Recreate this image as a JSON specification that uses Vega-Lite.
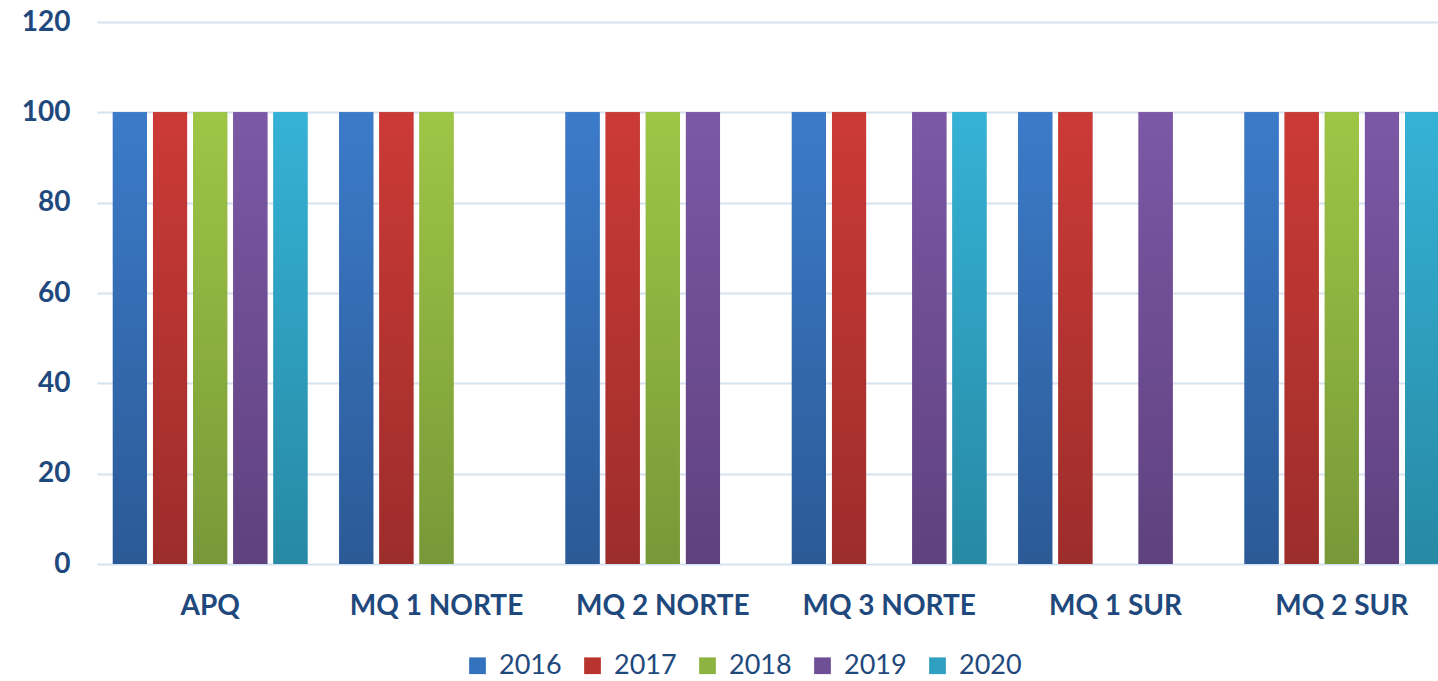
{
  "$schema": "https://vega.github.io/schema/vega-lite/v6.json",
  "width": 1341,
  "height": 542,
  "autosize": "none",
  "padding": {"left": 97, "top": 22, "right": 0, "bottom": 117},
  "background": "white",
  "config": {
    "view": {"stroke": null},
    "font": "Lato",
    "axis": {"labelColor": "#1F497D", "labelFont": "Lato", "labelFontWeight": "bold", "labelFontSize": 28, "domain": false, "ticks": false, "title": null},
    "legend": {"labelColor": "#1F497D", "labelFont": "Lato", "labelFontSize": 27, "labelFontWeight": "normal", "symbolType": "square", "symbolSize": 280, "symbolStrokeWidth": 0, "columnPadding": 17, "labelOffset": 8, "orient": "none", "legendX": 367, "legendY": 630, "direction": "horizontal", "title": null}
  },
  "data": {
    "values": [
      {"site": "APQ", "year": "2016", "value": 100},
      {"site": "APQ", "year": "2017", "value": 100},
      {"site": "APQ", "year": "2018", "value": 100},
      {"site": "APQ", "year": "2019", "value": 100},
      {"site": "APQ", "year": "2020", "value": 100},
      {"site": "MQ 1 NORTE", "year": "2016", "value": 100},
      {"site": "MQ 1 NORTE", "year": "2017", "value": 100},
      {"site": "MQ 1 NORTE", "year": "2018", "value": 100},
      {"site": "MQ 2 NORTE", "year": "2016", "value": 100},
      {"site": "MQ 2 NORTE", "year": "2017", "value": 100},
      {"site": "MQ 2 NORTE", "year": "2018", "value": 100},
      {"site": "MQ 2 NORTE", "year": "2019", "value": 100},
      {"site": "MQ 3 NORTE", "year": "2016", "value": 100},
      {"site": "MQ 3 NORTE", "year": "2017", "value": 100},
      {"site": "MQ 3 NORTE", "year": "2019", "value": 100},
      {"site": "MQ 3 NORTE", "year": "2020", "value": 100},
      {"site": "MQ 1 SUR", "year": "2016", "value": 100},
      {"site": "MQ 1 SUR", "year": "2017", "value": 100},
      {"site": "MQ 1 SUR", "year": "2019", "value": 100},
      {"site": "MQ 2 SUR", "year": "2016", "value": 100},
      {"site": "MQ 2 SUR", "year": "2017", "value": 100},
      {"site": "MQ 2 SUR", "year": "2018", "value": 100},
      {"site": "MQ 2 SUR", "year": "2019", "value": 100},
      {"site": "MQ 2 SUR", "year": "2020", "value": 100}
    ]
  },
  "encoding": {
    "x": {"field": "site", "type": "nominal", "sort": ["APQ", "MQ 1 NORTE", "MQ 2 NORTE", "MQ 3 NORTE", "MQ 1 SUR", "MQ 2 SUR"],
      "scale": {"range": [0, 1358], "paddingInner": 0.14, "paddingOuter": 0.07},
      "axis": {"labelAngle": 0, "labelPadding": 28, "grid": false}},
    "xOffset": {"field": "year", "type": "nominal", "scale": {"domain": ["2016", "2017", "2018", "2019", "2020"], "paddingInner": 0.15, "paddingOuter": 0}},
    "y": {"field": "value", "type": "quantitative", "scale": {"domain": [0, 120], "nice": false},
      "axis": {"values": [0, 20, 40, 60, 80, 100, 120], "grid": true, "gridColor": "#D6E2F0", "gridWidth": 2, "labelPadding": 27}}
  },
  "layer": [
    {
      "mark": {"type": "bar"},
      "encoding": {
        "color": {"field": "year", "type": "nominal", "scale": {"domain": ["2016", "2017", "2018", "2019", "2020"], "range": ["#3472BE", "#B8342F", "#8DB340", "#6F4F96", "#2FA0C0"]}}
      }
    },
    {
      "transform": [{"filter": "datum.year == '2016'"}],
      "mark": {"type": "bar", "fill": {"gradient": "linear", "x1": 0, "y1": 0, "x2": 0, "y2": 1, "stops": [{"offset": 0, "color": "#3C7BC9"}, {"offset": 1, "color": "#2B5A96"}]}}
    },
    {
      "transform": [{"filter": "datum.year == '2017'"}],
      "mark": {"type": "bar", "fill": {"gradient": "linear", "x1": 0, "y1": 0, "x2": 0, "y2": 1, "stops": [{"offset": 0, "color": "#CC3A36"}, {"offset": 1, "color": "#9C2D2B"}]}}
    },
    {
      "transform": [{"filter": "datum.year == '2018'"}],
      "mark": {"type": "bar", "fill": {"gradient": "linear", "x1": 0, "y1": 0, "x2": 0, "y2": 1, "stops": [{"offset": 0, "color": "#9EC646"}, {"offset": 1, "color": "#789838"}]}}
    },
    {
      "transform": [{"filter": "datum.year == '2019'"}],
      "mark": {"type": "bar", "fill": {"gradient": "linear", "x1": 0, "y1": 0, "x2": 0, "y2": 1, "stops": [{"offset": 0, "color": "#7C58A6"}, {"offset": 1, "color": "#5F417E"}]}}
    },
    {
      "transform": [{"filter": "datum.year == '2020'"}],
      "mark": {"type": "bar", "fill": {"gradient": "linear", "x1": 0, "y1": 0, "x2": 0, "y2": 1, "stops": [{"offset": 0, "color": "#35B2D6"}, {"offset": 1, "color": "#2789A4"}]}}
    }
  ]
}
